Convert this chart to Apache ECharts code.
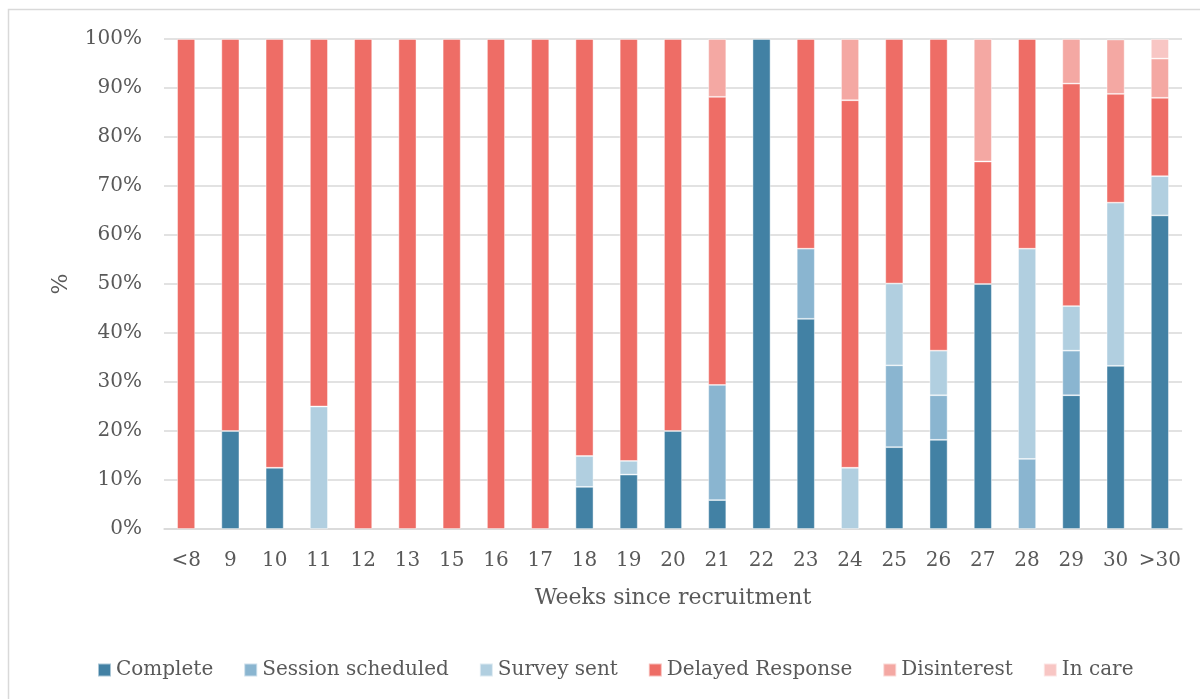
<!DOCTYPE html>
<html>
<head>
<meta charset="utf-8">
<script src="https://cdn.jsdelivr.net/npm/echarts@6/dist/echarts.min.js"></script>
<style>
  html, body { margin: 0; padding: 0; background: #fff; }
  #chart { width: 1200px; height: 699px; }
</style>
</head>
<body>
<div id="chart"></div>
<script>
// weeks since recruitment
const weeks = ['<8', '9', '10', '11', '12', '13', '15', '16', '17', '18', '19', '20', '21', '22', '23', '24', '25', '26', '27', '28', '29', '30', '>30']
// share of participants per status, %
const complete    = [0, 20, 12.5, 0, 0, 0, 0, 0, 0, 8.6, 11.1, 20, 5.9, 100, 42.9, 0, 16.7, 18.2, 50, 0, 27.3, 33.3, 64]
const scheduled   = [0, 0, 0, 0, 0, 0, 0, 0, 0, 0, 0, 0, 23.5, 0, 14.3, 0, 16.7, 9.1, 0, 14.3, 9.1, 0, 0]
const surveySent  = [0, 0, 0, 25, 0, 0, 0, 0, 0, 6.3, 2.8, 0, 0, 0, 0, 12.5, 16.7, 9.1, 0, 42.9, 9.1, 33.3, 8]
const delayed     = [100, 80, 87.5, 75, 100, 100, 100, 100, 100, 85.1, 86.1, 80, 58.8, 0, 42.8, 75, 49.9, 63.6, 25, 42.8, 45.4, 22.2, 16]
const disinterest = [0, 0, 0, 0, 0, 0, 0, 0, 0, 0, 0, 0, 11.8, 0, 0, 12.5, 0, 0, 25, 0, 9.1, 11.1, 8]
const inCare      = [0, 0, 0, 0, 0, 0, 0, 0, 0, 0, 0, 0, 0, 0, 0, 0, 0, 0, 0, 0, 0, 0, 4]
const yTicks = [0, 10, 20, 30, 40, 50, 60, 70, 80, 90, 100]

const font = 'DejaVu Serif'
const textColor = '#595959'

const chart = echarts.init(document.getElementById('chart'))

function bar (name, data, color) {
  return {
    name: name,
    type: 'bar',
    stack: 'all',
    barWidth: 18,
    itemStyle: { color: color, borderColor: 'rgba(255,255,255,0.55)', borderWidth: 0.8 },
    data: data.map(v => v === 0 ? '-' : v)
  }
}

chart.setOption({
  animation: false,
  graphic: [{
    type: 'rect',
    shape: { x: 8.5, y: 9.5, width: 1200, height: 700 },
    style: { fill: 'none', stroke: '#d9d9d9', lineWidth: 1.5 }
  }],
  legend: {
    bottom: 14,
    left: 92,
    icon: 'rect',
    itemWidth: 13,
    itemHeight: 13,
    itemGap: 30,
    textStyle: { fontFamily: font, fontSize: 20, color: textColor },
    data: ['Complete', 'Session scheduled', 'Survey sent', 'Delayed Response', 'Disinterest', 'In care']
  },
  grid: { left: 164, right: 18, top: 39, bottom: 170 },
  xAxis: {
    type: 'category',
    data: weeks,
    name: 'Weeks since recruitment',
    nameLocation: 'middle',
    nameGap: 58,
    nameMoveOverlap: false,
    nameTextStyle: { fontFamily: font, fontSize: 22, color: textColor },
    axisLine: { lineStyle: { color: '#d9d9d9', width: 1.5 } },
    axisTick: { show: false },
    axisLabel: { fontFamily: font, fontSize: 20, color: textColor, margin: 22, interval: 0 }
  },
  yAxis: {
    type: 'value',
    min: yTicks[0],
    max: yTicks[yTicks.length - 1],
    interval: 10,
    name: '%',
    nameLocation: 'middle',
    nameGap: 92,
    nameMoveOverlap: false,
    nameTextStyle: { fontFamily: font, fontSize: 22, color: textColor },
    axisLine: { show: false },
    axisTick: { show: false },
    axisLabel: { fontFamily: font, fontSize: 20, color: textColor, margin: 22, formatter: '{value}%' },
    splitLine: { lineStyle: { color: '#d9d9d9', width: 1.5 } }
  },
  series: [
    bar('Complete', complete, '#4281a4'),
    bar('Session scheduled', scheduled, '#8ab5d0'),
    bar('Survey sent', surveySent, '#b1cfe0'),
    bar('Delayed Response', delayed, '#ee6d66'),
    bar('Disinterest', disinterest, '#f4a8a3'),
    bar('In care', inCare, '#f8c6c4')
  ]
})
</script>
</body>
</html>
